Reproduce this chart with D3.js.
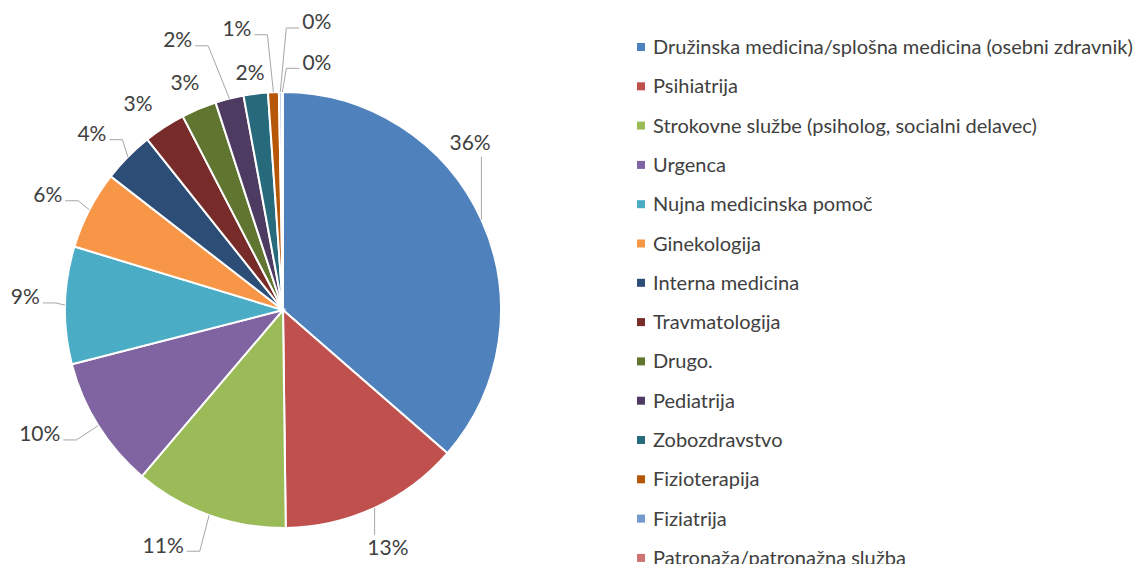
<!DOCTYPE html>
<html>
<head>
<meta charset="utf-8">
<script src="https://cdn.jsdelivr.net/npm/d3@7/dist/d3.min.js"></script>
<style>
  body { margin: 0; background: #fff; overflow: hidden; }
  text { font-family: Lato, "Open Sans", sans-serif; fill: #404040; }
</style>
</head>
<body>
<svg id="chart"></svg>
<script>
var categories = [
	"Družinska medicina/splošna medicina (osebni zdravnik)",
	"Psihiatrija",
	"Strokovne službe (psiholog, socialni delavec)",
	"Urgenca",
	"Nujna medicinska pomoč",
	"Ginekologija",
	"Interna medicina",
	"Travmatologija",
	"Drugo.",
	"Pediatrija",
	"Zobozdravstvo",
	"Fizioterapija",
	"Fiziatrija",
	"Patronaža/patronažna služba"
];
var shares = [36.4, 13.4, 11.4, 9.8, 8.7, 5.8, 3.8, 3.1, 2.6, 2.1, 1.8, 0.8, 0.2, 0.1];
var colors = ["#4f81bd", "#c0504d", "#9bbb59", "#8064a2", "#4bacc6", "#f79646", "#2c4d75",
	"#772c2a", "#5f7530", "#4d3b62", "#276a7c", "#b65708", "#729aca", "#cd7371"];

// where each data label sits: angle (deg, clockwise from top), distance from centre, leader style
var labelAt = [[48.2, 251, "v"], [156.2, 260, "v"], [207.0, 264, "h"], [243.0, 273, "h"],
	[272.9, 258, "h"], [296.1, 262, "h"], [312.7, 260, "h"], [324.9, 252, null],
	[336.7, 248, null], [338.7, 290, "h"], [352.1, 240, null], [350.7, 285, "h"],
	[6.7, 290, "h"], [7.8, 250, "h"]];

var W = 1135, H = 564,
	cx = 283, cy = 310, R = 218;

var svg = d3.select("#chart").attr("width", W).attr("height", H);

var pie = d3.pie().sort(null).value(function(d) { return d; });
var arc = d3.arc().innerRadius(0).outerRadius(R);
var arcs = pie(shares);

var g = svg.append("g").attr("transform", "translate(" + cx + "," + cy + ")");

g.selectAll("path.slice")
	.data(arcs)
	.enter().append("path")
	.attr("class", "slice")
	.attr("d", arc)
	.attr("fill", function(d, i) { return colors[i]; })
	.attr("stroke", "#fff")
	.attr("stroke-width", 2);

function polar(deg, r) {
	var a = deg * Math.PI / 180;
	return [r * Math.sin(a), -r * Math.cos(a)];
}

var labels = g.selectAll("text.lbl")
	.data(arcs)
	.enter().append("text")
	.attr("class", "lbl")
	.attr("text-anchor", "middle")
	.attr("dy", ".35em")
	.style("font-size", "21px")
	.attr("x", function(d, i) { return polar(labelAt[i][0], labelAt[i][1])[0]; })
	.attr("y", function(d, i) { return polar(labelAt[i][0], labelAt[i][1])[1]; })
	.text(function(d) { return Math.round(d.value) + "%"; });

labels.each(function(d, i) {
	var kind = labelAt[i][2];
	if (!kind) return;
	var hw = this.getComputedTextLength() / 2;
	var lp = polar(labelAt[i][0], labelAt[i][1]);
	var mid = (d.startAngle + d.endAngle) / 2 * 180 / Math.PI;
	var ap = polar(mid, R);
	var pts;
	if (kind === "v") {
		var y0 = lp[1] < ap[1] ? lp[1] + 14 : lp[1] - 13;
		pts = [[ap[0], y0], ap];
	} else {
		var left = lp[0] < ap[0];
		var ax = left ? lp[0] + hw + 3 : lp[0] - hw - 3;
		var ex = left ? ax + 13 : ax - 13;
		pts = [[ax, lp[1] + 6], [ex, lp[1] + 6], ap];
	}
	g.append("path")
		.attr("d", d3.line()(pts))
		.attr("fill", "none")
		.attr("stroke", "#a6a6a6")
		.attr("stroke-width", 1);
});

// legend
var legend = svg.selectAll(".legend")
	.data(categories)
	.enter().append("g")
	.attr("class", "legend")
	.attr("transform", function(d, i) { return "translate(637," + (47 + i * 39.3) + ")"; });

legend.append("rect")
	.attr("x", 0)
	.attr("y", -4)
	.attr("width", 8)
	.attr("height", 8)
	.attr("fill", function(d, i) { return colors[i]; });

legend.append("text")
	.attr("x", 16)
	.attr("dy", ".35em")
	.style("font-size", "20px")
	.text(function(d) { return d; });
</script>
</body>
</html>
